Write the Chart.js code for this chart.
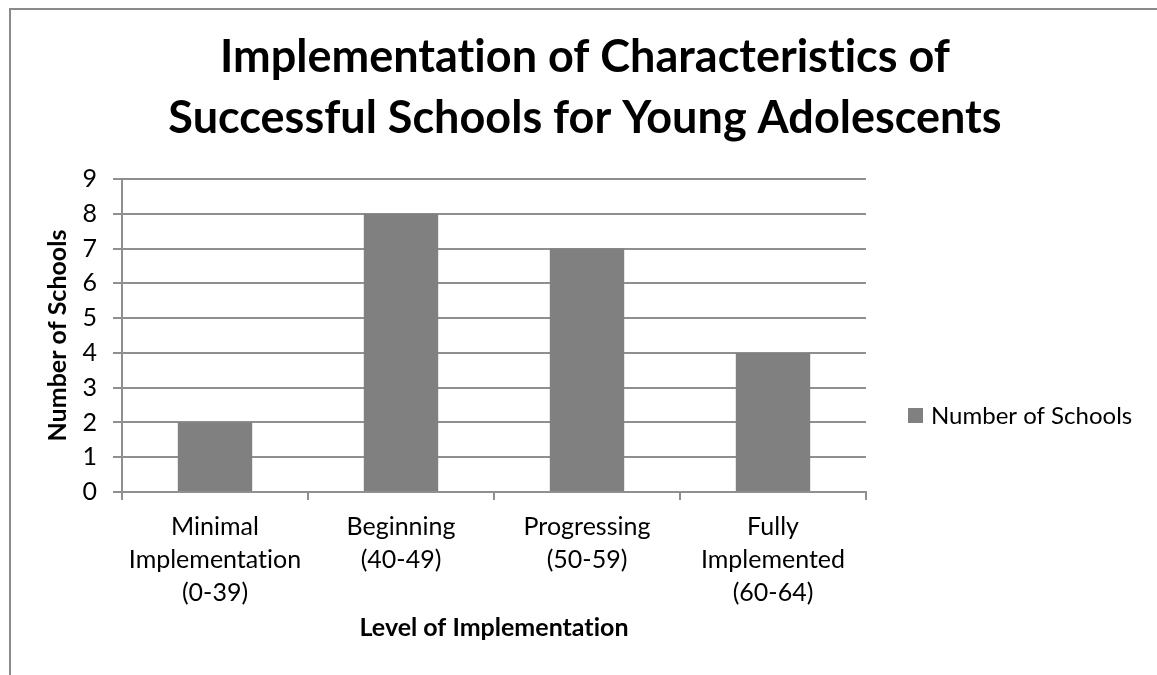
<!doctype html>
<html lang="en">
  <head>
    <meta charset="utf-8">
    <title>Implementation of Characteristics of Successful Schools</title>
    <style>
      * {
        margin: 0;
        padding: 0;
      }
      body {
        width: 1157px;
        height: 675px;
        overflow: hidden;
        background: #fff;
      }
      .chartFrame {
        position: absolute;
        left: 9px;
        top: 8px;
        border-left: 2px solid #8a8a8a;
        border-top: 2px solid #8a8a8a;
      }
      .chartBox {
        width: 1148px;
        height: 665px;
      }
    </style>
  </head>
  <body>
    <div class="chartFrame">
      <div class="chartBox">
        <canvas id="myChart"></canvas>
      </div>
    </div>
    <script src="https://cdn.jsdelivr.net/npm/chart.js"></script>
    <script>
    const levels = [
      ['Minimal', 'Implementation', '(0-39)'],
      ['Beginning', '(40-49)'],
      ['Progressing', '(50-59)'],
      ['Fully', 'Implemented', '(60-64)']
    ];
    const schoolCounts = [2, 8, 7, 4];
    const titleLines = ['Implementation of Characteristics of', 'Successful Schools for Young Adolescents'];

    const fontFamily = 'Lato, "Open Sans", sans-serif';
    const gridColor = '#8f8f8f';
    const barColor = '#808080';

    // no "ti" ligatures from Lato
    const plainText = {
      id: 'plainText',
      beforeDraw(chart) {
        chart.ctx.textRendering = 'optimizeSpeed';
      }
    };

    // title spans the whole canvas, not just the area left of the legend
    const centerTitle = {
      id: 'centerTitle',
      afterLayout(chart) {
        const t = chart.titleBlock;
        t.left = 0;
        t.right = chart.width;
        t.width = chart.width;
      }
    };

    // single-entry legend in the space right of the plot
    const sideLegend = {
      id: 'sideLegend',
      afterDraw(chart) {
        const ctx = chart.ctx;
        const ds = chart.data.datasets[0];
        const x = chart.chartArea.right + 42;
        const y = 406;
        ctx.save();
        ctx.fillStyle = ds.backgroundColor;
        ctx.fillRect(x, y - 8, 15, 15);
        ctx.fillStyle = '#000';
        ctx.font = '24px ' + fontFamily;
        ctx.textBaseline = 'middle';
        ctx.fillText(ds.label, x + 23, y);
        ctx.restore();
      }
    };

    const data = {
      labels: levels,
      datasets: [{
        label: 'Number of Schools',
        data: schoolCounts,
        backgroundColor: barColor,
        barPercentage: 0.4,
        categoryPercentage: 1
      }]
    };

    const config = {
      type: 'bar',
      data,
      plugins: [plainText, centerTitle, sideLegend],
      options: {
        responsive: true,
        maintainAspectRatio: false,
        animation: false,
        layout: {
          padding: { left: 0, right: 293, top: 0, bottom: 0 }
        },
        plugins: {
          legend: { display: false },
          tooltip: { enabled: false },
          title: {
            display: true,
            text: titleLines,
            color: '#000',
            font: { family: fontFamily, size: 45, weight: 'bold', lineHeight: '61px' },
            padding: { top: 17, bottom: 30 }
          }
        },
        scales: {
          x: {
            grid: {
              offset: true,
              drawOnChartArea: false,
              drawTicks: true,
              tickLength: 8,
              color: gridColor,
              lineWidth: 2
            },
            border: { color: gridColor, width: 2 },
            ticks: {
              color: '#000',
              padding: 10,
              maxRotation: 0,
              font: { family: fontFamily, size: 25, lineHeight: '33px' }
            },
            title: {
              display: true,
              text: 'Level of Implementation',
              color: '#000',
              font: { family: fontFamily, size: 25, weight: 'bold', lineHeight: 1.2 },
              padding: { top: 0, bottom: 32 }
            },
            afterFit(scale) {
              scale.height = 183;
            }
          },
          y: {
            min: 0,
            max: 9,
            grid: {
              color: gridColor,
              lineWidth: 2,
              tickLength: 9
            },
            border: { color: gridColor, width: 2 },
            ticks: {
              stepSize: 1,
              color: '#000',
              padding: 16,
              font: { family: fontFamily, size: 25 }
            },
            title: {
              display: true,
              text: 'Number of Schools',
              color: '#000',
              font: { family: fontFamily, size: 25, weight: 'bold', lineHeight: 1.2 },
              padding: { top: 32, bottom: 0 }
            },
            afterFit(scale) {
              scale.width = 111;
            }
          }
        }
      }
    };

    const myChart = new Chart(document.getElementById('myChart'), config);
    </script>
  </body>
</html>
